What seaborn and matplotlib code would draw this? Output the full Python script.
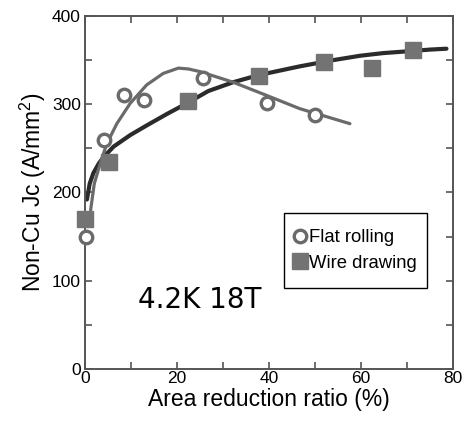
import matplotlib
matplotlib.use("Agg")
import matplotlib.pyplot as plt
import seaborn as sns
from matplotlib.lines import Line2D
from matplotlib.patches import Rectangle

# --- data ---
flat_x = [0.2, 4.2, 8.5, 12.9, 25.6, 39.6, 49.9]
flat_y = [149, 259, 311, 305, 330, 301, 288]
wire_x = [0.0, 5.1, 22.3, 37.8, 51.9, 62.4, 71.4]
wire_y = [170, 235, 304, 332, 348, 341, 362]

wire_fit_x = [0.4, 1.0, 1.8, 3.0, 4.0, 6.2, 9.8, 13.4, 17.8, 22.1, 26.8, 32.2, 37.7, 46.7, 53.9, 59.8, 64.8, 70.0, 75.0, 78.6]
wire_fit_y = [192, 210, 222, 233, 240, 252, 265, 276, 289, 301, 315, 325, 333, 343, 350, 355, 358, 360, 362, 363]
flat_fit_x = [1.2, 2.0, 3.3, 4.7, 6.9, 9.8, 13.4, 17.0, 20.3, 22.5, 25.0, 32.2, 39.5, 46.7, 57.6]
flat_fit_y = [180, 210, 233, 255, 278, 301, 322, 335, 341, 340, 337, 325, 310, 295, 278]

x_ticks = [0, 20, 40, 60, 80]
y_ticks = [0, 100, 200, 300, 400]

sns.set_style("ticks")
plt.rcParams['font.family'] = ['Liberation Sans', 'DejaVu Sans']
plt.rcParams['mathtext.fontset'] = 'custom'
plt.rcParams['mathtext.rm'] = 'Liberation Sans'
plt.rcParams['mathtext.it'] = 'Liberation Sans:italic'
plt.rcParams['text.color'] = 'black'
plt.rcParams['axes.labelcolor'] = 'black'
plt.rcParams['xtick.color'] = 'black'
plt.rcParams['ytick.color'] = 'black'

fig = plt.figure(figsize=(4.65, 4.23), dpi=100)
ax = fig.add_axes([0.183, 0.128, 0.791, 0.834])

gray = '#737373'
dark = '#2b2b2b'

sns.lineplot(x=wire_fit_x, y=wire_fit_y, ax=ax, color=dark, lw=3.0, sort=False, zorder=2)
sns.lineplot(x=flat_fit_x, y=flat_fit_y, ax=ax, color='#6a6a6a', lw=2.3, sort=False, zorder=2)

ax.plot(wire_x, wire_y, ls='none', marker='s', ms=11.5, mfc=gray, mec=gray, zorder=3, clip_on=False)
ax.plot(flat_x, flat_y, ls='none', marker='o', ms=9, mfc='white', mec='#6a6a6a', mew=2.4, zorder=3, clip_on=False)

ax.set_xlim(0, 80)
ax.set_ylim(0, 400)
ax.set_xticks(x_ticks)
ax.set_yticks(y_ticks)
ax.set_xticks(range(0, 81, 10), minor=True)
ax.set_yticks(range(0, 401, 50), minor=True)
ax.tick_params(which='both', direction='in', top=True, right=True, color='#555555', width=1.2, labelsize=12.5)
ax.tick_params(axis='x', which='major', pad=1.2)
ax.tick_params(axis='y', which='major', pad=3)
ax.tick_params(which='major', length=5)
ax.tick_params(which='minor', length=5)
for s in ax.spines.values():
    s.set_color('#555555')
    s.set_linewidth(1.4)

ax.set_xlabel('Area reduction ratio (%)', fontsize=16.5, labelpad=1.5)
ax.set_ylabel('Non-Cu Jc (A/mm$^2$)', fontsize=16.5, labelpad=3)

ax.text(11.5, 69, '4.2K 18T', fontsize=20, family='DejaVu Sans', color='black')

# legend box
ax.add_patch(Rectangle((0.541, 0.229), 0.388, 0.213, transform=ax.transAxes,
                       fill=True, facecolor='white', edgecolor='black', lw=1.0, zorder=4))
handles = [
    Line2D([], [], ls='none', marker='o', ms=9, mfc='white', mec='#6a6a6a', mew=2.4),
    Line2D([], [], ls='none', marker='s', ms=11.5, mfc=gray, mec=gray),
]
leg = ax.legend(handles, ['Flat rolling', 'Wire drawing'], loc='center',
                bbox_to_anchor=(0.735, 0.3355), fontsize=13.3, frameon=False,
                handlelength=0.7, handletextpad=0.15, borderpad=0.0,
                labelspacing=0.45, borderaxespad=0)
leg.set_zorder(5)

fig.savefig('out.png', dpi=100)
